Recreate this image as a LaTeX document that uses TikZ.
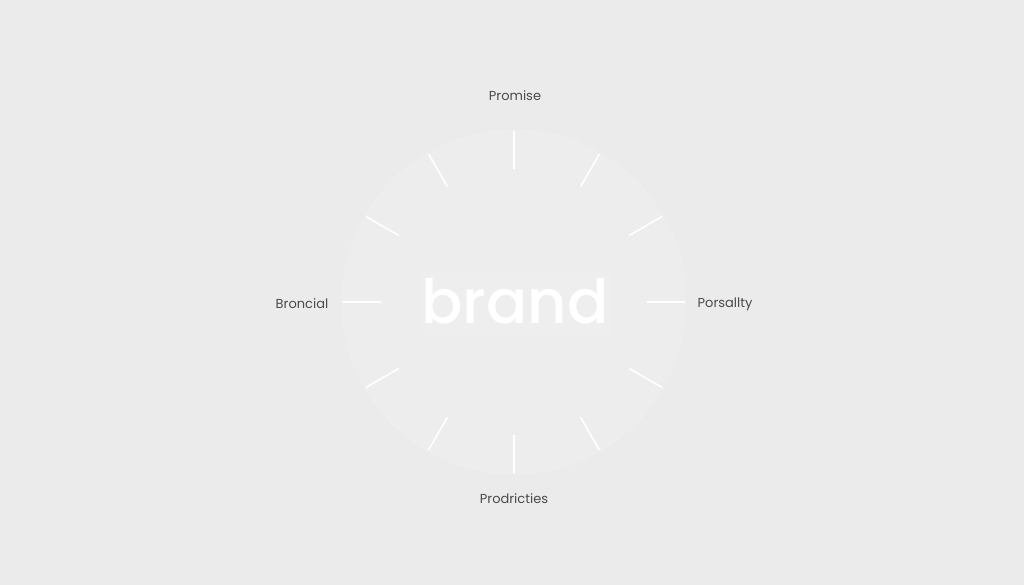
\documentclass[tikz,border=0pt]{standalone}
\usepackage{fontspec}
\usetikzlibrary{calc}
\setmainfont{Poppins}
\newfontfamily\brandfont[UprightFont=* Medium]{Poppins}
\definecolor{bg}{HTML}{EBEBEB}
\definecolor{disc}{HTML}{EDEDED}
\definecolor{lbl}{HTML}{4A4A4A}
\begin{document}
\begin{tikzpicture}[x=1pt,y=1pt,
  tick/.style={draw=white,line width=1.6pt},
  lab/.style={text=lbl,font=\fontsize{13}{15}\selectfont,inner sep=0pt}]
\fill[bg] (0,0) rectangle (1024,585);
\useasboundingbox (0,0) rectangle (1024,585);
\coordinate (c) at (514,283);
\fill[disc] (c) circle (172);
\draw[white!25!bg,line width=0.5pt] (c) circle (172);
\draw[white!20!bg,line width=0.5pt] (c) circle (118);
\fill[white!15!bg] (418,250) rectangle (612,315);
\foreach \a in {0,30,...,330}{
  \draw[tick] ($(c)+(\a:133)$) -- ($(c)+(\a:171)$);
}
\node[text=white,font=\brandfont\fontsize{61}{68}\selectfont,inner sep=0pt] (brand) at (515,284) {brand};
\node[lab] (promise) at (515,489) {Promise};
\node[lab] (bron) at (302,281) {Broncial};
\node[lab] (pors) at (725,281) {Porsallty};
\node[lab] (prod) at (514,86) {Prodricties};
\end{tikzpicture}
\end{document}
